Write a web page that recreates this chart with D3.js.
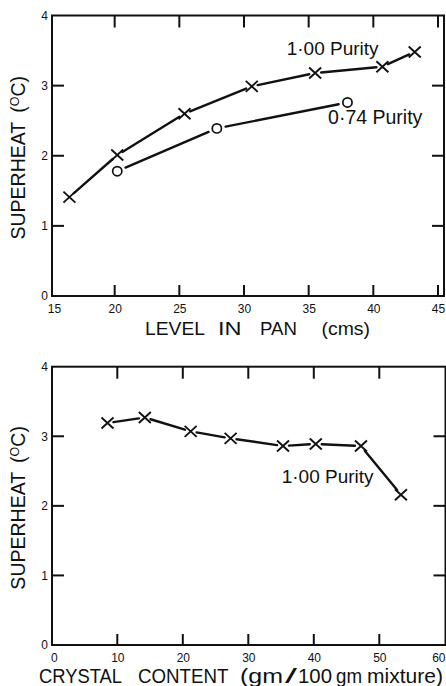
<!DOCTYPE html>
<html><head><meta charset="utf-8">
<script src="https://cdn.jsdelivr.net/npm/d3@7"></script>
<style>
html,body{margin:0;padding:0;background:#fff;}
svg{display:block;font-family:"Liberation Sans",Arial,Helvetica,sans-serif;}
</style></head>
<body><svg id="chart" width="446" height="686"></svg>
<script>
// ---- data ----
const levelX100 = [16.5, 20.2, 25.4, 30.6, 35.5, 40.7, 43.2];
const superheat100 = [1.41, 2.01, 2.60, 2.99, 3.18, 3.27, 3.48];
const levelX074 = [20.2, 27.9, 38.0];
const superheat074 = [1.78, 2.39, 2.76];
const crystalX = [8.5, 14.2, 21.2, 27.3, 35.3, 40.3, 47.2, 53.3];
const superheatCrystal = [3.19, 3.27, 3.07, 2.97, 2.86, 2.89, 2.86, 2.16];
const levelTicks = [15, 20, 25, 30, 35, 40, 45];
const crystalTicks = [0, 10, 20, 30, 40, 50, 60];
const superheatTicks = [0, 1, 2, 3, 4];
const innerTicksY = [1, 2, 3];

const ink = "#111";
const svg = d3.select("#chart");
const tickRects = [];

function panel(cfg) {
  const x = d3.scaleLinear().domain(cfg.xDomain).range(cfg.xRange);
  const y = d3.scaleLinear().domain([0, 4]).range([cfg.bottom, cfg.top]);
  const g = svg.append("g");

  g.append("rect").attr("x", cfg.left).attr("y", cfg.top)
    .attr("width", cfg.right - cfg.left).attr("height", cfg.bottom - cfg.top)
    .attr("fill", "none").attr("stroke", ink).attr("stroke-width", 2);

  const last = cfg.xTicks[cfg.xTicks.length - 1];
  const ax = g.append("g").attr("transform", `translate(0,${cfg.bottom})`)
    .call(d3.axisBottom(x).tickValues(cfg.xTicks).tickSize(0).tickPadding(8).tickFormat(d3.format("d")));
  ax.select(".domain").remove();
  ax.selectAll(".tick line").remove();
  ax.selectAll("text").attr("font-size", 12).attr("fill", ink)
    .attr("font-family", "Liberation Sans, Arial, sans-serif")
    .attr("dx", d => d === cfg.xTicks[0] ? cfg.firstDx : 0)
    .attr("text-anchor", d => (cfg.lastEnd && d === last) ? "end" : "middle")
    .attr("x", d => (cfg.lastEnd && d === last) ? 445 - x(d) : 0);

  const al = g.append("g").attr("transform", `translate(${cfg.left},0)`)
    .call(d3.axisLeft(y).tickValues(superheatTicks).tickSize(0).tickPadding(4).tickFormat(d3.format("d")));
  al.select(".domain").remove();
  al.selectAll(".tick line").remove();
  al.selectAll("text").attr("font-size", 12).attr("fill", ink)
    .attr("font-family", "Liberation Sans, Arial, sans-serif");

  // inward tick marks as small filled bars (x, y, w, h)
  cfg.xInner.forEach(v => {
    tickRects.push([x(v) - 1, cfg.top, 2, 12]);
    tickRects.push([x(v) - 1, cfg.bottom - 11, 2, 11]);
  });
  innerTicksY.forEach(v => {
    tickRects.push([cfg.right - 12, y(v) - 1, 12, 2]);
    tickRects.push([cfg.left, y(v) - 1, 12, 2]);
  });

  const yt = g.append("text")
    .attr("transform", `translate(25,${(cfg.top + cfg.bottom) / 2 + 2}) rotate(-90)`)
    .attr("text-anchor", "middle").attr("font-size", 19.5).attr("fill", ink);
  yt.append("tspan").text("SUPERHEAT");
  yt.append("tspan").attr("dx", 9).text("(");
  yt.append("tspan").attr("font-size", 12.5).attr("dy", -6).text("O");
  yt.append("tspan").attr("dy", 6).text("C)");

  return { g, x, y };
}

function series(p, xs, ys, kind, gap) {
  const pts = xs.map((v, i) => [p.x(v), p.y(ys[i])]);
  for (let i = 0; i < pts.length - 1; i++) {
    const [x0, y0] = pts[i], [x1, y1] = pts[i + 1];
    const len = Math.hypot(x1 - x0, y1 - y0), ux = (x1 - x0) / len, uy = (y1 - y0) / len;
    p.g.append("line")
      .attr("x1", x0 + ux * gap).attr("y1", y0 + uy * gap)
      .attr("x2", x1 - ux * gap).attr("y2", y1 - uy * gap)
      .attr("stroke", ink).attr("stroke-width", 2.4).attr("stroke-linecap", "round");
  }
  const m = p.g.append("g").selectAll("g").data(pts).join("g")
    .attr("transform", d => `translate(${d[0]},${d[1]})`);
  if (kind === "x") {
    m.append("path").attr("d", "M-6,-5.5L6,5.5M-6,5.5L6,-5.5")
      .attr("stroke", ink).attr("stroke-width", 1.9).attr("fill", "none");
  } else {
    m.append("circle").attr("r", 4.6).attr("fill", "#fff")
      .attr("stroke", ink).attr("stroke-width", 1.7);
  }
}

function words(list, baseline, size) {
  list.forEach(([w, x0, x1]) => {
    svg.append("text").attr("x", x0).attr("y", baseline)
      .attr("font-size", size).attr("fill", ink)
      .attr("textLength", x1 - x0).attr("lengthAdjust", "spacingAndGlyphs")
      .text(w);
  });
}

const panelA = panel({
  xDomain: [15, 45], xRange: [50, 438], left: 52, right: 444, top: 15.5, bottom: 296,
  xTicks: levelTicks, xInner: [20, 25, 30, 35, 40, 45], firstDx: 4, lastEnd: false
});
series(panelA, levelX100, superheat100, "x", 6);
series(panelA, levelX074, superheat074, "o", 9);
panelA.g.append("text").attr("x", panelA.x(33.3)).attr("y", panelA.y(3.44))
  .attr("font-size", 19).attr("fill", ink).text("1·00 Purity");
panelA.g.append("text").attr("x", panelA.x(36.5)).attr("y", panelA.y(2.45))
  .attr("font-size", 19.5).attr("fill", ink).text("0·74 Purity");
words([["LEVEL", 145, 205], ["IN", 218, 241.5], ["PAN", 260, 297], ["(cms)", 321.5, 370]], 335, 18.5);

const panelB = panel({
  xDomain: [0, 60], xRange: [51.8, 444.8], left: 52, right: 445.5, top: 366.7, bottom: 645,
  xTicks: crystalTicks, xInner: [10, 20, 30, 40, 50], firstDx: 2, lastEnd: true
});
series(panelB, crystalX, superheatCrystal, "x", 6);
panelB.g.append("text").attr("x", panelB.x(35.1)).attr("y", panelB.y(2.33))
  .attr("font-size", 19).attr("fill", ink).text("1·00 Purity");
words([["CRYSTAL", 39, 122], ["CONTENT", 138, 228.5], ["(gm", 240, 283], ["/", 285, 297],
       ["100", 298, 332], ["gm", 336, 362], ["mixture)", 367, 443]], 683, 20);

// tick bars drawn last, on top of everything
svg.append("g").attr("class", "inticks").selectAll("rect").data(tickRects).join("rect")
  .attr("x", r => r[0]).attr("y", r => r[1]).attr("width", r => r[2]).attr("height", r => r[3])
  .attr("fill", ink);
</script>
</body></html>
